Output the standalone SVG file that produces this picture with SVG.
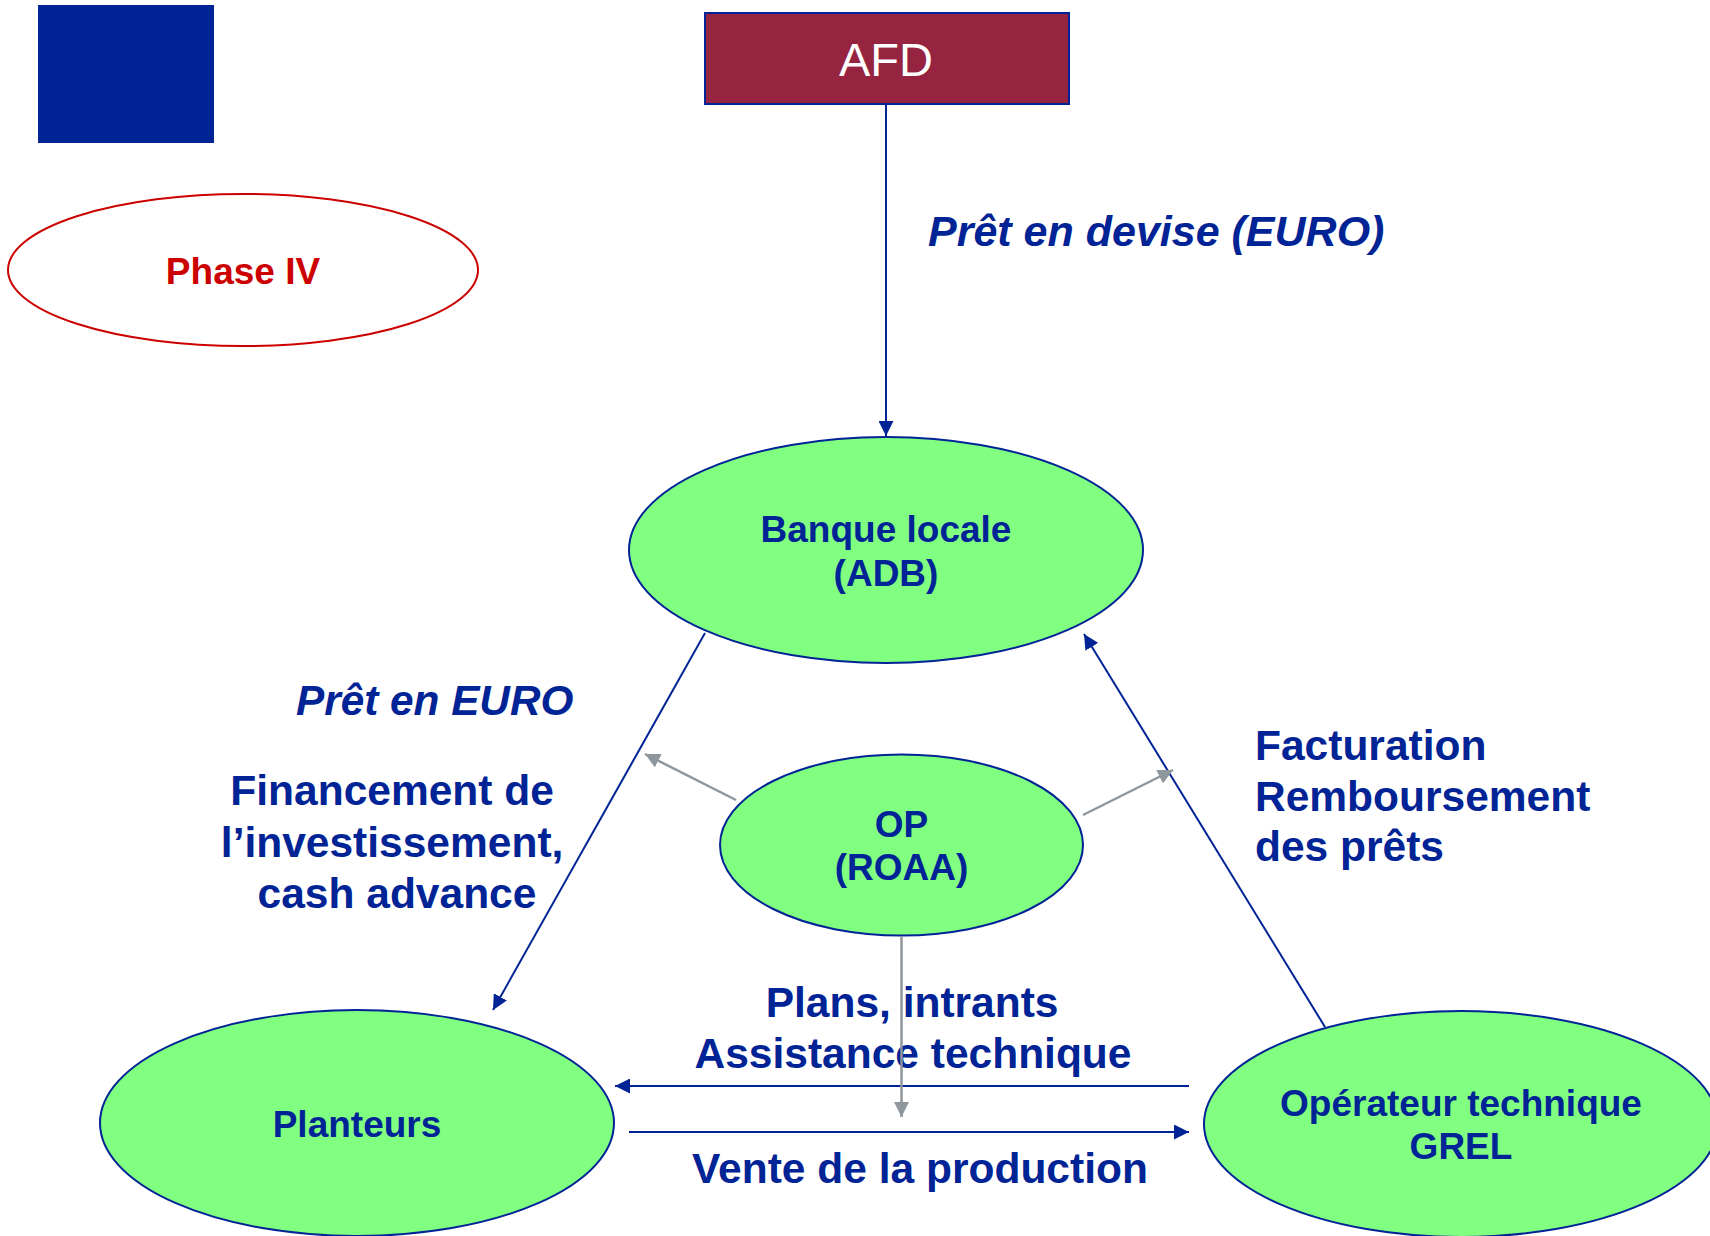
<svg xmlns="http://www.w3.org/2000/svg" width="1710" height="1236" viewBox="0 0 1710 1236">
  <style>
    .node { fill: #80FF80; stroke: #002395; stroke-width: 2; }
    .ntext { font-family: "Liberation Sans", Arial, sans-serif; font-weight: bold; font-size: 37px; fill: #002395; text-anchor: middle; }
    .label { font-family: "Liberation Sans", Arial, sans-serif; font-weight: bold; font-size: 42.5px; fill: #002395; }
    .ital { font-style: italic; font-size: 43px; }
    .blue { stroke: #002395; stroke-width: 2; fill: none; }
    .gray { stroke: #8E979E; stroke-width: 2.5; fill: none; }
  </style>
  <defs>
    <marker id="ah-blue" viewBox="0 0 15 15" refX="15" refY="7.5" markerWidth="15" markerHeight="15" markerUnits="userSpaceOnUse" orient="auto">
      <path d="M0,0 L15,7.5 L0,15 z" fill="#002395"/>
    </marker>
    <marker id="ah-gray" viewBox="0 0 15 15" refX="15" refY="7.5" markerWidth="15" markerHeight="15" markerUnits="userSpaceOnUse" orient="auto">
      <path d="M0,0 L15,7.5 L0,15 z" fill="#8E979E"/>
    </marker>
  </defs>
  <rect width="1710" height="1236" fill="#FFFFFF"/>

  <rect id="logo" x="38" y="5" width="176" height="138" fill="#002395"/>

  <g id="phase">
    <ellipse cx="243" cy="270" rx="235" ry="76" fill="none" stroke="#CC0000" stroke-width="2"/>
    <text x="243" y="284" font-family="Liberation Sans, Arial, sans-serif" font-weight="bold" font-size="37" fill="#CC0000" text-anchor="middle">Phase IV</text>
  </g>

  <g id="afd">
    <rect x="705" y="13" width="364" height="91" fill="#96233F" stroke="#002395" stroke-width="2"/>
    <text x="886" y="76" font-family="Liberation Sans, Arial, sans-serif" font-size="47" fill="#FFFFFF" text-anchor="middle">AFD</text>
  </g>

  <g id="banque">
    <ellipse class="node" cx="886" cy="550" rx="257" ry="113"/>
    <text class="ntext" x="886" y="542">Banque locale</text>
    <text class="ntext" x="886" y="586">(ADB)</text>
  </g>

  <g id="op">
    <ellipse class="node" cx="901.5" cy="845" rx="181.5" ry="90.5"/>
    <text class="ntext" x="901.5" y="837">OP</text>
    <text class="ntext" x="901.5" y="880">(ROAA)</text>
  </g>

  <g id="planteurs">
    <ellipse class="node" cx="357" cy="1123" rx="257" ry="113"/>
    <text class="ntext" x="357" y="1137">Planteurs</text>
  </g>

  <g id="grel">
    <ellipse class="node" cx="1461" cy="1124" rx="257" ry="113"/>
    <text class="ntext" x="1461" y="1116">Opérateur technique</text>
    <text class="ntext" x="1461" y="1159">GREL</text>
  </g>

  <g id="labels">
    <text class="label ital" x="928" y="246">Prêt en devise (EURO)</text>
    <text class="label ital" x="296" y="715" style="font-size:42.3px">Prêt en EURO</text>
    <text class="label" text-anchor="middle">
      <tspan x="398" y="805">Financement de</tspan>
      <tspan x="398" y="857">l’investissement,</tspan>
      <tspan x="397" y="908">cash advance</tspan>
    </text>
    <text class="label">
      <tspan x="1255" y="760">Facturation</tspan>
      <tspan x="1255" y="811">Remboursement</tspan>
      <tspan x="1255" y="861">des prêts</tspan>
    </text>
    <text class="label" text-anchor="middle">
      <tspan x="918" y="1017">Plans, intrants</tspan>
      <tspan x="913" y="1068">Assistance technique</tspan>
    </text>
    <text class="label" text-anchor="middle" x="920" y="1183">Vente de la production</text>
  </g>

  <g id="connectors">
    <line class="blue" x1="886" y1="104" x2="886" y2="436" marker-end="url(#ah-blue)"/>
    <line class="blue" x1="705" y1="633" x2="493" y2="1010" marker-end="url(#ah-blue)"/>
    <line class="blue" x1="1325" y1="1027" x2="1084" y2="634" marker-end="url(#ah-blue)"/>
    <line class="blue" x1="1189" y1="1086" x2="615" y2="1086" marker-end="url(#ah-blue)"/>
    <line class="blue" x1="629" y1="1132" x2="1189" y2="1132" marker-end="url(#ah-blue)"/>
    <line class="gray" x1="736" y1="800" x2="645" y2="754" marker-end="url(#ah-gray)"/>
    <line class="gray" x1="1083" y1="815" x2="1173" y2="770" marker-end="url(#ah-gray)"/>
    <line class="gray" x1="901.5" y1="936" x2="901.5" y2="1117" marker-end="url(#ah-gray)"/>
  </g>
</svg>
